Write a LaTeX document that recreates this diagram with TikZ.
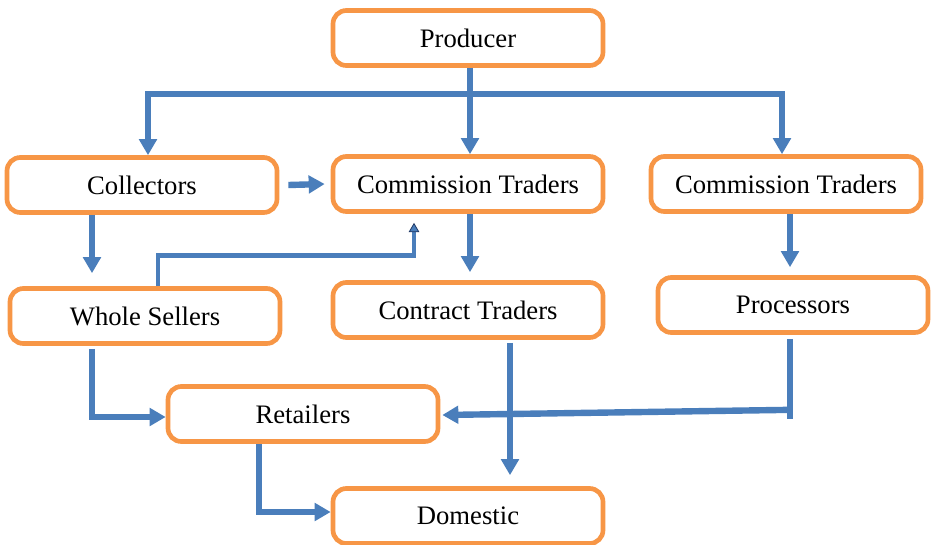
\documentclass[tikz,border=0pt]{standalone}
\usepackage{fontspec}
\setmainfont{Liberation Serif}
\usetikzlibrary{arrows.meta,calc}
\definecolor{boxor}{HTML}{F79646}
\definecolor{lnblue}{HTML}{4A7EBB}
\definecolor{tipdark}{HTML}{1F3864}
\tikzset{
  box/.style={draw=boxor, line width=3.5pt, rounded corners=10pt, fill=white,
    minimum width=270*0.75pt, minimum height=55*0.75pt, inner sep=0pt,
    font=\fontsize{20}{24}\selectfont},
  ln/.style={draw=lnblue, line width=4.8pt},
  arr/.style={ln, -{Triangle[width=13pt,length=12pt]}},
  thinarr/.style={draw=lnblue, line width=3.6pt,
    -{Triangle[width=8pt,length=7pt,fill=lnblue,color=tipdark,line width=0.6pt]}},
}
\begin{document}
\begin{tikzpicture}[x=0.75pt,y=-0.75pt]
\useasboundingbox (0,0) rectangle (932,544);
\node[box] (prod) at (468,38) {Producer};
\node[box] (coll) at (142,185) {Collectors};
\node[box] (ct1) at (468,184) {Commission Traders};
\node[box] (ct2) at (786,184) {Commission Traders};
\node[box] (whole) at (145,316) {Whole Sellers};
\node[box] (contract) at (468,310) {Contract Traders};
\node[box] (proc) at (793,305) {Processors};
\node[box] (ret) at (303,414) {Retailers};
\node[box] (dom) at (468,516) {Domestic};

% producer distribution
\coordinate (jm) at (470,94);
\coordinate (jl) at (148,94);
\coordinate (jr) at (782,94);
\draw[ln] ($(prod.south)+(2,0)$) -- (jm);
\draw[ln, line cap=rect] (jl) -- (jr);
\draw[arr] (jl) -- (jl |- coll.north);
\draw[arr] (jm) -- (jm |- ct1.north);
\draw[arr] (jr) -- (jr |- ct2.north);

% collectors
\draw[arr] ($(coll.east)+(9,0)$) -- ($(ct1.west)+(-6,0)$);
\draw[arr] ($(coll.south)+(-50,0)$) -- ($(whole.north)+(-53,-13)$);

% whole sellers up to commission traders
\draw[thinarr] ($(whole.north)+(13,0)$) |- ($(ct1.south)+(-54,42)$) -- ($(ct1.south)+(-54,9)$);

% commission traders down
\draw[arr] ($(ct1.south)+(2,0)$) -- ($(contract.north)+(2,-8)$);
\draw[arr] ($(ct2.south)+(4,0)$) -- ($(proc.north)+(-3,-8)$);

% whole sellers to retailers
\draw[ln] ($(whole.south)+(-53,3)$) |- ($(ret.west)+(-30,3)$);
\draw[arr] ($(ret.west)+(-32,3)$) -- ($(ret.west)+(0,3)$);

% contract traders to domestic
\draw[arr] ($(contract.south)+(42,3)$) -- ($(dom.north)+(42,-11)$);

% processors to retailers
\draw[ln] ($(proc.south)+(-3,4)$) coordinate (pt) -- ++(0,80);
\coordinate (ph) at ($(pt)+(0,71)$);
\draw[arr] (ph) -- ($(ret.east)+(2,1)$);

% retailers to domestic
\draw[ln] ($(ret.south)+(-44,0)$) |- ($(dom.west)+(-30,-4)$);
\draw[arr] ($(dom.west)+(-32,-4)$) -- ($(dom.west)+(0,-4)$);
\end{tikzpicture}
\end{document}
